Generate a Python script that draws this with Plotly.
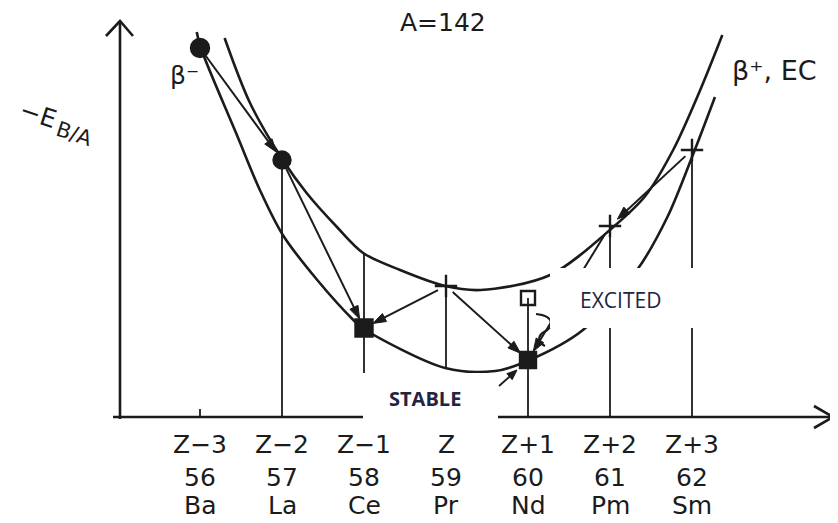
import numpy as np
import plotly.graph_objects as go

# ---------------- data ----------------
z_offset = [-3, -2, -1, 0, 1, 2, 3]
z_label = ["Z−3", "Z−2", "Z−1", "Z", "Z+1", "Z+2", "Z+3"]
z_number = ["56", "57", "58", "59", "60", "61", "62"]
element = ["Ba", "La", "Ce", "Pr", "Nd", "Pm", "Sm"]
# -E_B/A of each isobar (arbitrary units, axis at 0)
level = [369, 257, 89, 131, 57, 191, 267]
marker_symbol = ["circle", "circle", "square", "cross-thin", "square", "cross-thin", "cross-thin"]

excited_index = 4          # Nd
excited_level = 119

# odd-odd (upper) parabola
upper_z = [-2.70, -2.39, -1.99, -1.70, -1.33, -1.01, -0.56, -0.01, 0.42, 1.27, 2.04, 2.43, 2.77, 3.10, 3.37]
upper_e = [379, 314, 257, 224, 190, 164, 147, 131, 127, 142, 190, 221, 267, 327, 382]
# even-even (lower) parabola
lower_z = [-3.04, -2.99, -2.55, -2.27, -1.99, -1.57, -1.13, -1.02, -0.01, 0.60, 1.02, 1.67, 2.33, 2.70, 3.01, 3.28]
lower_e = [385, 369, 282, 227, 182, 137, 97, 89, 49, 46, 57, 87, 147, 200, 262, 320]

# beta decays: (from index, to index)
decays = [(0, 1), (1, 2), (3, 2), (3, 4), (5, 4), (6, 5)]

# ---------------- geometry helpers ----------------
PX_X = 82.0      # pixels per unit of Z
X0 = 446.0       # pixel of Z
Y0 = 417.0       # pixel of the axis
W, H = 838, 523
PAD = 8          # default page margin around the plot div
INK = "#1b1b1b"


def dx(px):
    return (px - X0) / PX_X


def dy(py):
    return Y0 - py


def to_px(p):
    return np.array([p[0] * PX_X, p[1]])


def to_data(v):
    return (v[0] / PX_X, v[1])


shapes = []


def arrow(p0, p1, d0, d1, head_len=13, head_w=4.5, width=2.0):
    a, b = to_px(p0), to_px(p1)
    u = (b - a) / np.linalg.norm(b - a)
    n = np.array([-u[1], u[0]])
    t = a + u * d0
    h = b - u * d1
    base = h - u * head_len
    tx, ty = to_data(t)
    bx, by = to_data(base + u * 2)
    shapes.append(dict(type="line", x0=tx, y0=ty, x1=bx, y1=by,
                       line=dict(color=INK, width=width)))
    p_h, p_l, p_r = to_data(h), to_data(base + n * head_w), to_data(base - n * head_w)
    shapes.append(dict(type="path",
                       path=f"M {p_h[0]},{p_h[1]} L {p_l[0]},{p_l[1]} L {p_r[0]},{p_r[1]} Z",
                       fillcolor=INK, line=dict(color=INK, width=1)))


fig = go.Figure()

# parabolas
for zz, ee in ((upper_z, upper_e), (lower_z, lower_e)):
    fig.add_trace(go.Scatter(x=zz, y=ee, mode="lines",
                             line=dict(color=INK, width=2.6, shape="spline", smoothing=0.9),
                             hoverinfo="skip"))

# drop lines
for i, z in enumerate(z_offset):
    if i == 0:
        top, bottom = 8, 0
    elif i == 2:
        top, bottom = float(np.interp(z, upper_z, upper_e)), 0
    elif i == 3:
        top, bottom = level[i], float(np.interp(z, lower_z, lower_e))
    elif i == excited_index:
        top, bottom = excited_level, 0
    else:
        top, bottom = level[i], 0
    shapes.append(dict(type="line", x0=z, x1=z, y0=bottom, y1=top,
                       line=dict(color=INK, width=1.8), layer="below"))

# axes
shapes.append(dict(type="line", x0=dx(113), x1=dx(832), y0=0, y1=0,
                   line=dict(color=INK, width=2.6)))
shapes.append(dict(type="path",
                   path=f"M {dx(814)},{dy(406)} L {dx(833)},{dy(417)} L {dx(814)},{dy(428)}",
                   line=dict(color=INK, width=2.6)))
shapes.append(dict(type="line", x0=dx(120), x1=dx(120), y0=dy(419), y1=dy(21),
                   line=dict(color=INK, width=2.6)))
shapes.append(dict(type="path",
                   path=f"M {dx(106)},{dy(36)} L {dx(120)},{dy(21)} L {dx(133)},{dy(36)}",
                   line=dict(color=INK, width=2.6)))

# gamma transition wiggle
shapes.append(dict(type="path",
                   path=(f"M {dx(536)},{dy(314)} C {dx(556)},{dy(316)} {dx(553)},{dy(328)} {dx(544)},{dy(332)} "
                         f"C {dx(537)},{dy(336)} {dx(538)},{dy(343)} {dx(545)},{dy(346)}"),
                   line=dict(color=INK, width=2.2)))

# decay arrows
for a, b in decays:
    arrow((z_offset[a], level[a]), (z_offset[b], level[b]), 9, 10)
# small arrow pointing at the stable ground state
arrow((dx(499), dy(386)), (dx(517), dy(370)), 0, 0, head_len=10, head_w=4, width=1.8)

# white label boxes, drawn over the lines beneath them
shapes.append(dict(type="rect", x0=dx(363), x1=dx(498), y0=dy(425), y1=dy(373),
                   fillcolor="white", line=dict(width=0), layer="above"))
shapes.append(dict(type="rect", x0=dx(550), x1=dx(706), y0=dy(328), y1=dy(268),
                   fillcolor="white", line=dict(width=0), layer="above"))

# nuclide markers
fig.add_trace(go.Scatter(
    x=z_offset, y=level, mode="markers",
    marker=dict(symbol=marker_symbol, size=[18, 17, 17, 16, 16, 16, 16], color=INK,
                opacity=1, line=dict(color=INK, width=2.4)),
    hoverinfo="skip"))
fig.add_trace(go.Scatter(
    x=[z_offset[excited_index]], y=[excited_level], mode="markers",
    marker=dict(symbol="square-open", size=14, color=INK, opacity=1,
                line=dict(color=INK, width=2.4)),
    hoverinfo="skip"))

FONT = "DejaVu Sans"
annotations = []
# tick labels
for i, z in enumerate(z_offset):
    for txt, py in ((z_label[i], 444), (z_number[i], 477), (element[i], 505)):
        annotations.append(dict(x=z, y=dy(py), text=txt, showarrow=False,
                                font=dict(family=FONT, size=25, color=INK)))

annotations += [
    dict(x=dx(443), y=dy(22), text="A=142", showarrow=False,
         font=dict(family=FONT, size=25, color=INK)),
    dict(x=dx(184), y=dy(75), text="β⁻", showarrow=False,
         font=dict(family=FONT, size=25, color=INK)),
    dict(x=dx(730), y=dy(70), text="β⁺, EC", showarrow=False, xanchor="left",
         font=dict(family=FONT, size=27, color=INK)),
    dict(x=dx(38), y=dy(114), text="−E", showarrow=False, textangle=18,
         font=dict(family=FONT, size=25, color=INK)),
    dict(x=dx(74), y=dy(134), text="B/A", showarrow=False, textangle=18,
         font=dict(family=FONT, size=21, color=INK)),
    dict(x=dx(425), y=dy(398), text="STABLE", showarrow=False,
         font=dict(family="Open Sans", size=20, color="#23243f", weight=700)),
    dict(x=dx(620), y=dy(300), text="EXCITED", showarrow=False,
         font=dict(family="Open Sans", size=21, color="#23243f")),
]
for a in annotations:
    a.setdefault("xref", "x")
    a.setdefault("yref", "y")

fig.update_layout(
    width=W - PAD, height=H - PAD,
    margin=dict(l=0, r=0, t=0, b=0),
    paper_bgcolor="white", plot_bgcolor="white",
    showlegend=False,
    xaxis=dict(range=[dx(PAD), dx(W)], visible=False, fixedrange=True),
    yaxis=dict(range=[dy(H), dy(PAD)], visible=False, fixedrange=True),
    shapes=shapes,
    annotations=annotations,
)

fig.write_html("out.html")
